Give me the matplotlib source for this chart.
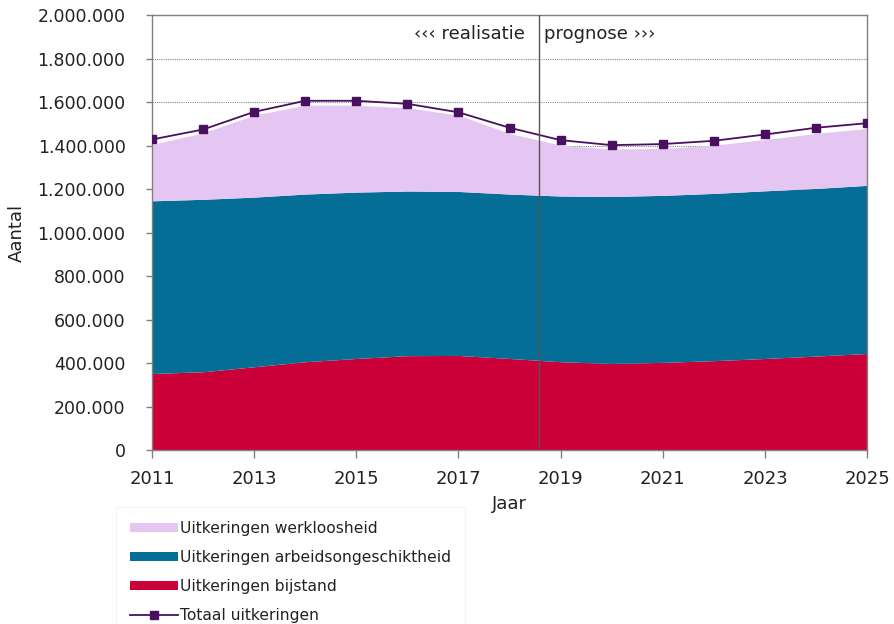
import matplotlib
matplotlib.use("Agg")
import matplotlib.pyplot as plt
import numpy as np
from matplotlib.ticker import FuncFormatter, MultipleLocator

plt.rcParams['font.family'] = ['DejaVu Sans']

years = list(range(2011, 2026))
bijstand = [352000, 360000, 383000, 406000, 421000, 434000, 435000, 421000,
            406000, 398000, 403000, 411000, 421000, 432000, 444000]
arbeidsongeschiktheid = [794000, 793000, 780000, 771000, 765000, 757000, 754000, 756000,
                         762000, 768000, 768000, 769000, 771000, 771000, 773000]
werkloosheid = [259000, 306000, 377000, 409000, 400000, 383000, 351000, 279000,
                234000, 218000, 216000, 222000, 236000, 253000, 262000]
totaal = [1428000, 1474000, 1555000, 1606000, 1606000, 1592000, 1553000, 1482000,
          1425000, 1402000, 1407000, 1422000, 1451000, 1482000, 1503000]
xticks = [2011, 2013, 2015, 2017, 2019, 2021, 2023, 2025]
split_year = 2018.58

c_ww = "#E5C6F2"
c_ao = "#046E96"
c_bij = "#CC0039"
c_tot = "#4A1060"

fig = plt.figure(figsize=(8.94, 6.24), dpi=100)
ax = fig.add_axes([0.170, 0.2788, 0.800, 0.697])

x = np.array(years, dtype=float)
b = np.array(bijstand, dtype=float)
a = np.array(arbeidsongeschiktheid, dtype=float)
w = np.array(werkloosheid, dtype=float)

h_bij = ax.fill_between(x, 0, b, color=c_bij, linewidth=0, zorder=2)
h_ao = ax.fill_between(x, b, b + a, color=c_ao, linewidth=0, zorder=2)
h_ww = ax.fill_between(x, b + a, b + a + w, color=c_ww, linewidth=0, zorder=2)
h_tot, = ax.plot(x, totaal, color=c_tot, linewidth=1.3, marker="s", markersize=6,
                 markerfacecolor=c_tot, markeredgecolor=c_tot, zorder=4)

ax.set_xlim(2011, 2025)
ax.set_ylim(0, 2000000)
ax.set_xticks(xticks)
ax.yaxis.set_major_locator(MultipleLocator(200000))
ax.yaxis.set_major_formatter(FuncFormatter(lambda v, p: f"{int(v):,}".replace(",", ".")))
ax.grid(axis="y", color="#888888", linestyle=(0, (1, 1)), linewidth=0.8, zorder=1)
ax.set_axisbelow(True)

for s in ax.spines.values():
    s.set_color("#808080")
    s.set_linewidth(1.0)
ax.tick_params(axis="both", which="major", colors="#808080",
               labelcolor="#222222", width=1.0)
ax.tick_params(axis="x", length=5.5, pad=9, labelsize=13)
ax.tick_params(axis="y", length=4.5, pad=14.5, labelsize=12.5)

ax.set_xlabel("Jaar", fontsize=13, color="#222222", labelpad=5)
ax.set_ylabel("Aantal", fontsize=13, color="#222222", labelpad=8)

ax.axvline(split_year, ymin=0.01, ymax=1, color="#555555", linewidth=1.0, zorder=5)
ax.text(split_year - 0.29, 1915000, "‹‹‹ realisatie", ha="right", va="center",
        fontsize=13, color="#222222", zorder=6)
ax.text(split_year + 0.1, 1915000, "prognose ›››", ha="left", va="center",
        fontsize=13, color="#222222", zorder=6)

leg = fig.legend([h_ww, h_ao, h_bij, h_tot],
                 ["Uitkeringen werkloosheid", "Uitkeringen arbeidsongeschiktheid",
                  "Uitkeringen bijstand", "Totaal uitkeringen"],
                 loc="upper left", bbox_to_anchor=(0.121, 0.2003),
                 fontsize=11.2, frameon=True, fancybox=False, handlelength=3.08,
                 handleheight=0.5, handletextpad=0.13, labelspacing=0.9,
                 borderpad=0.9)
leg.get_frame().set_edgecolor("#f2f2f2")
leg.get_frame().set_linewidth(0.8)
for t in leg.get_texts():
    t.set_color("#222222")

fig.savefig("out.png", dpi=100)
